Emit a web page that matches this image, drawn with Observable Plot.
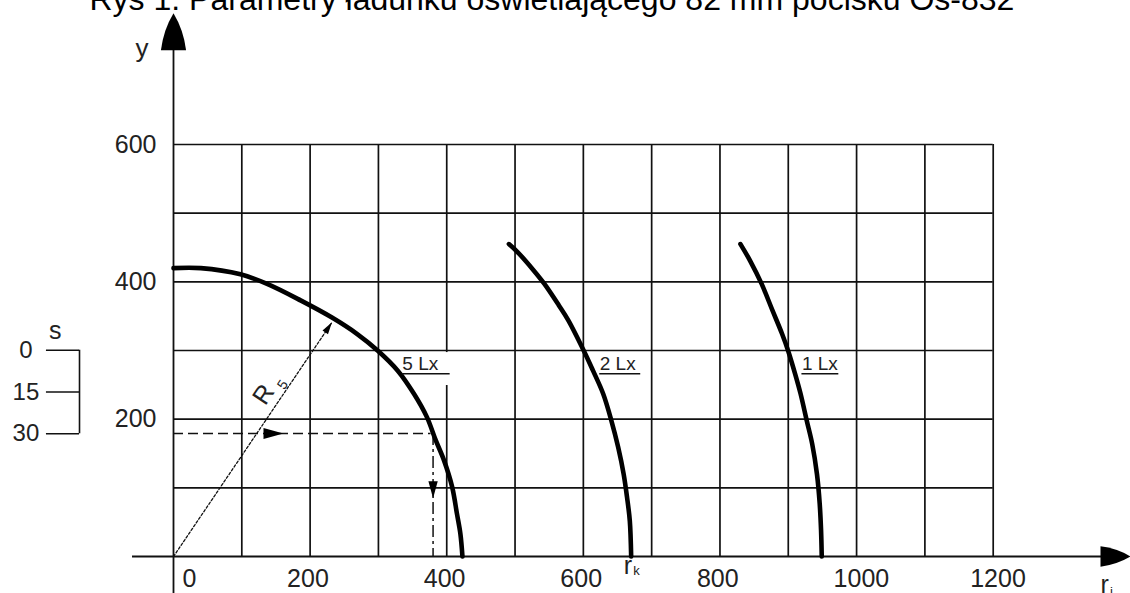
<!DOCTYPE html>
<html><head><meta charset="utf-8">
<script src="https://cdn.jsdelivr.net/npm/d3@7"></script>
<script src="https://cdn.jsdelivr.net/npm/@observablehq/plot@0.6"></script>
<style>html,body{margin:0;padding:0;background:#fff;}</style>
</head><body><div id="chart"></div>
<script>
const title = "Rys 1. Parametry ładunku oświetlającego 82 mm pocisku Oś-832";
const xTicks = [0, 200, 400, 600, 800, 1000, 1200];
const yTicks = [200, 400, 600];
const gridX = [100, 200, 300, 400, 500, 600, 700, 800, 900, 1000, 1100, 1200];
const gridY = [100, 200, 300, 400, 500, 600];
const sTicks = [0, 15, 30];

// 5 Lx curve (r, y)
const lx5R = [0, 40, 98, 137, 186, 232, 269, 300, 328, 352, 371, 384, 396, 408, 415, 420, 423];
const lx5Y = [420, 420, 411, 397, 373, 348, 324, 299, 271, 237, 203, 169, 140, 101, 62, 33, 0];
// 2 Lx curve
const lx2R = [491, 504, 527, 543, 564, 578, 601, 614, 629, 641, 651, 659, 664, 668, 670];
const lx2Y = [455, 443, 417, 397, 366, 344, 299, 271, 237, 198, 159, 120, 86, 52, 0];
// 1 Lx curve
const lx1R = [830, 844, 861, 877, 891, 900, 910, 918, 927, 935, 942, 946, 948, 949];
const lx1Y = [455, 431, 397, 358, 324, 299, 266, 237, 198, 164, 120, 77, 38, 0];

// annotations (data units)
const curveLabels = [
  {text: "5 Lx", x: 335, x2: 405},
  {text: "2 Lx", x: 624, x2: 684},
  {text: "1 Lx", x: 920, x2: 974}
];
const labelY = 271, underlineY = 266;
const guideY = 179, guideX = 380;
const radiusTip = {x: 232, y: 341};

const toPts = (R, Y) => R.map((r, i) => ({r, y: Y[i]}));
const sToY = s => 300.4 - s * (121.7 / 30);

const arrowHead = {
  draw(ctx, size) {
    const r = Math.sqrt(size / Math.PI);
    const len = 2 * r, hw = 0.68 * r;
    ctx.moveTo(0, 0);
    ctx.quadraticCurveTo(hw * 0.8, len * 0.45, hw, len);
    ctx.lineTo(-hw, len);
    ctx.quadraticCurveTo(-hw * 0.8, len * 0.45, 0, 0);
    ctx.closePath();
  }
};
const slimHead = {
  draw(ctx, size) {
    const r = Math.sqrt(size / Math.PI);
    const len = 2 * r, hw = 0.55 * r;
    ctx.moveTo(0, 0);
    ctx.lineTo(hw, len);
    ctx.lineTo(-hw, len);
    ctx.closePath();
  }
};

const ink = "#111";
const txt = "#222";
const font = "Liberation Sans, Arial, Helvetica, sans-serif";

const chart = Plot.plot({
  width: 1130,
  height: 593,
  x: {domain: [0, 1200], range: [173, 992.7], axis: null},
  y: {domain: [0, 600], range: [556, 144], axis: null},
  style: {fontFamily: font, background: "white", overflow: "visible"},
  marks: [
    Plot.ruleX(gridX, {y1: 0, y2: 600, stroke: ink, strokeWidth: 1.7}),
    Plot.ruleY(gridY, {x1: 0, x2: 1200, stroke: ink, strokeWidth: 1.7}),
    // axes
    Plot.ruleY([0], {x1: -60, x2: 1372, stroke: ink, strokeWidth: 1.8}),
    Plot.ruleX([0], {y1: -56, y2: 760, stroke: ink, strokeWidth: 1.8}),
    // white box behind 5 Lx label
    Plot.rect([0], {x1: 333, x2: 410, y1: 249, y2: 297, fill: "white"}),
    // guide lines
    Plot.ruleY([guideY], {x1: 0, x2: 377, stroke: ink, strokeWidth: 1.5, strokeDasharray: "10,5"}),
    Plot.ruleX([guideX], {y1: guideY, y2: 0, stroke: ink, strokeWidth: 1.5, strokeDasharray: "12,4,3,4"}),
    Plot.line([{r: 0, y: 0}, {r: radiusTip.x, y: radiusTip.y}], {x: "r", y: "y", stroke: ink, strokeWidth: 1.3, strokeDasharray: "2.5,2"}),
    // curves
    Plot.line(toPts(lx5R, lx5Y), {x: "r", y: "y", stroke: "#000", strokeWidth: 4.6, curve: "catmull-rom"}),
    Plot.line(toPts(lx2R, lx2Y), {x: "r", y: "y", stroke: "#000", strokeWidth: 4.6, curve: "catmull-rom"}),
    Plot.line(toPts(lx1R, lx1Y), {x: "r", y: "y", stroke: "#000", strokeWidth: 4.6, curve: "catmull-rom"}),
    // arrow heads
    Plot.dot([0], {x: 0, y: 791, symbol: arrowHead, r: 18.5, fill: "#000", stroke: "none"}),
    Plot.dot([0], {x: 1401, y: 0, symbol: arrowHead, r: 15, rotate: 90, fill: "#000", stroke: "none"}),
    Plot.dot([0], {x: 161, y: guideY, symbol: slimHead, r: 10, rotate: 90, fill: "#000", stroke: "none"}),
    Plot.dot([0], {x: guideX, y: 85, symbol: slimHead, r: 8.5, rotate: 180, fill: "#000", stroke: "none"}),
    Plot.dot([0], {x: radiusTip.x, y: radiusTip.y, symbol: slimHead, r: 6, rotate: 34, fill: "#000", stroke: "none"}),
    // curve labels
    Plot.text(curveLabels, {x: "x", y: labelY, text: "text", textAnchor: "start", lineAnchor: "bottom", fontSize: 19, fill: txt}),
    Plot.ruleY(curveLabels, {y: underlineY, x1: "x", x2: "x2", stroke: ink, strokeWidth: 1.5}),
    // R5 label
    Plot.text(["R"], {x: 132, y: 236, text: d => d, rotate: -56, fontSize: 25, fill: txt}),
    Plot.text(["5"], {x: 160, y: 250, text: d => d, rotate: -56, fontSize: 14, fill: txt}),
    // tick labels
    Plot.text(xTicks.filter(d => d !== 0), {x: d => d, y: 0, text: d => String(d), textAnchor: "start", lineAnchor: "top", dx: -23, dy: 12.5, fontSize: 25, fill: txt}),
    Plot.text([0], {x: d => d, y: 0, text: d => String(d), textAnchor: "start", lineAnchor: "top", dx: 9, dy: 12.5, fontSize: 25, fill: txt}),
    Plot.text(yTicks, {x: 0, y: d => d, text: d => String(d), textAnchor: "end", lineAnchor: "middle", dx: -17, fontSize: 25, fill: txt}),
    // axis names
    Plot.text(["y"], {x: -46, y: 728, text: d => d, textAnchor: "middle", lineAnchor: "bottom", fontSize: 26, fill: txt}),
    Plot.text(["r"], {x: 659, y: -25, text: d => d, textAnchor: "start", lineAnchor: "bottom", fontSize: 25, fill: txt}),
    Plot.text(["k"], {x: 673, y: -27, text: d => d, textAnchor: "start", lineAnchor: "bottom", fontSize: 13, fill: txt}),
    Plot.text(["r"], {x: 1357, y: -53, text: d => d, textAnchor: "start", lineAnchor: "bottom", fontSize: 25, fill: txt}),
    Plot.text(["i"], {x: 1371, y: -58, text: d => d, textAnchor: "start", lineAnchor: "bottom", fontSize: 13, fill: txt}),
    // s scale bracket
    Plot.ruleY(sTicks, {y: sToY, x1: -186, x2: -137.6, stroke: ink, strokeWidth: 1.6}),
    Plot.ruleX([-137.6], {y1: sToY(0), y2: sToY(30), stroke: ink, strokeWidth: 1.6}),
    Plot.text(sTicks, {x: -216, y: sToY, text: d => String(d), textAnchor: "middle", lineAnchor: "middle", fontSize: 24, fill: txt}),
    Plot.text(["s"], {x: -173, y: 317, text: d => d, textAnchor: "middle", lineAnchor: "bottom", fontSize: 25, fill: txt}),
    // title
    Plot.text([title], {x: 554, y: 796, text: d => d, textAnchor: "middle", lineAnchor: "bottom", fontSize: 32, fill: "#000"})
  ]
});
document.getElementById("chart").append(chart);
</script>
</body></html>
